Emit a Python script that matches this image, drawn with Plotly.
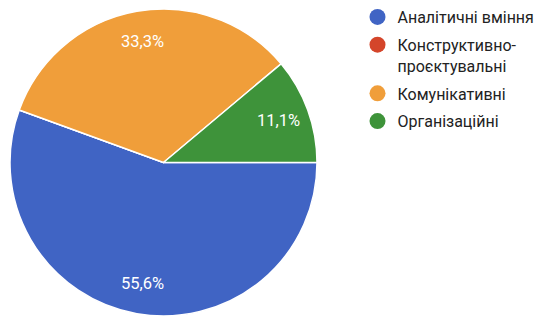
import math
import plotly.graph_objects as go

categories = ["Аналітичні вміння", "Конструктивно-<br>проєктувальні", "Комунікативні", "Організаційні"]
values = [5, 0, 3, 1]
colors = ["#4064c4", "#d4452a", "#f09e3a", "#3e933a"]

total = sum(values)
texts = [(f"{v / total * 100:.1f}".replace(".", ",") + "%") if v > 0 else "" for v in values]

W, H = 537, 316
MT, MB = 9, 0
PH = H - MT - MB
dom_x = [9.5 / W, 317.5 / W]
cx_px = (dom_x[0] + dom_x[1]) / 2 * W
cy_px = MT + PH / 2
r_px = PH / 2
start_deg = 0.0  # slices start at 3 o'clock and run clockwise
label_frac = 0.8

fig = go.Figure()
fig.add_trace(go.Pie(
    labels=categories,
    values=values,
    textinfo="none",
    marker=dict(colors=colors, line=dict(color="white", width=1.5)),
    sort=False,
    direction="clockwise",
    rotation=90,
    showlegend=False,
    hoverinfo="skip",
    domain=dict(x=dom_x, y=[0, 1]),
))

# percentage labels placed at the middle angle of each slice
cum = 0.0
for v, t in zip(values, texts):
    mid = cum + v / 2
    cum += v
    if not t:
        continue
    ang = math.radians(start_deg - mid / total * 360)
    px = cx_px + label_frac * r_px * math.cos(ang)
    py = cy_px - label_frac * r_px * math.sin(ang)
    fig.add_annotation(
        x=px / W, y=(H - MB - py) / PH, xref="paper", yref="paper",
        text=t, showarrow=False, xanchor="center", yanchor="middle",
        font=dict(family="Roboto", size=16.5, color="white"),
    )

for i, (name, c) in enumerate(zip(categories, colors)):
    fig.add_trace(go.Scatter(
        x=[None], y=[None], mode="markers", name=name,
        legendgroup=f"g{i}",
        marker=dict(symbol="circle", size=16, color=c),
        showlegend=True,
    ))

fig.update_layout(
    width=W, height=H,
    margin=dict(l=0, r=0, t=MT, b=MB, autoexpand=False),
    paper_bgcolor="white", plot_bgcolor="white",
    xaxis=dict(visible=False), yaxis=dict(visible=False),
    legend=dict(
        x=357.5 / W, xanchor="left",
        y=1 + 9 / PH, yanchor="top",
        font=dict(family="Roboto", size=16, color="#222222"),
        valign="top", itemsizing="trace",
        tracegroupgap=4,
        bgcolor="rgba(0,0,0,0)",
    ),
)

fig.write_html("out.html", config={"displayModeBar": False},
               post_script="document.body.style.margin='0';")
